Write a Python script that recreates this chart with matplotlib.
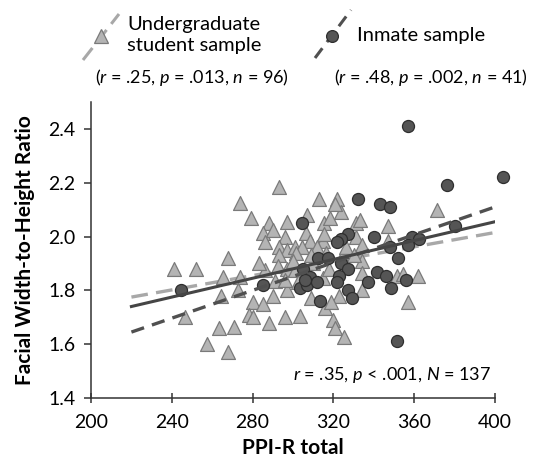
import numpy as np
import matplotlib
matplotlib.use("Agg")
import matplotlib.pyplot as plt
from matplotlib.lines import Line2D

plt.rcParams["font.family"] = ["Lato", "DejaVu Sans"]
plt.rcParams["mathtext.fontset"] = "custom"
plt.rcParams["mathtext.it"] = "Lato:italic"
plt.rcParams["mathtext.rm"] = "Lato"

# ==========================================
# DATA
# ==========================================

undergrad_x = [293, 274, 313, 322, 279, 288, 285, 290, 297, 307,
               315.5, 318.5, 306.6, 286, 296, 308.6, 315, 293, 297, 301,
               304.6, 312, 293, 301.6, 316.5, 324, 331, 333, 347, 371.5,
               331, 334, 347, 325, 334, 286, 292.7, 297, 301, 274,
               291, 297, 290, 280, 285, 278, 280, 288, 296, 303.6,
               309, 316, 320, 321, 302.6, 315, 334, 351.7, 354.7, 362,
               334, 323, 319, 357, 325, 241, 252, 268, 265.5, 264.5,
               273, 246.6, 263.5, 271, 257.5, 268, 321, 315.5, 310, 318,
               300, 326, 283, 309, 330, 296]
undergrad_y = [2.185, 2.125, 2.14, 2.14, 2.07, 2.05, 2.015, 2.025, 2.055, 2.08,
               2.05, 2.07, 2.015, 1.98, 2.0, 1.985, 1.985, 1.96, 1.95, 1.96,
               1.96, 1.96, 1.93, 1.94, 1.94, 2.09, 2.05, 2.06, 2.04, 2.10,
               2.0, 1.97, 1.985, 1.94, 1.91, 1.875, 1.89, 1.88, 1.875, 1.85,
               1.835, 1.80, 1.78, 1.755, 1.75, 1.71, 1.70, 1.68, 1.70, 1.705,
               1.77, 1.735, 1.69, 1.66, 1.83, 1.845, 1.865, 1.855, 1.86, 1.855,
               1.80, 1.78, 1.755, 1.755, 1.625, 1.88, 1.88, 1.92, 1.85, 1.78,
               1.80, 1.70, 1.66, 1.665, 1.60, 1.57, 2.12, 2.01, 1.90, 1.88,
               1.91, 1.96, 1.90, 1.93, 1.93, 1.84]

inmate_x = [244.6, 357, 404, 376, 380, 359, 362.6, 357, 352, 332,
            343, 348, 327, 324, 322, 340, 348, 304.6, 312.5, 317.5,
            285, 305, 308.6, 303.6, 307, 312, 313.5, 324, 327, 323,
            322, 341.6, 345.8, 337, 356, 348.7, 327, 329, 351.7, 306]
inmate_y = [1.80, 2.41, 2.22, 2.19, 2.04, 2.00, 1.99, 1.97, 1.92, 2.14,
            2.12, 2.11, 2.01, 1.99, 1.98, 2.00, 1.96, 2.05, 1.92, 1.92,
            1.82, 1.88, 1.85, 1.81, 1.82, 1.83, 1.76, 1.90, 1.88, 1.855,
            1.83, 1.87, 1.855, 1.83, 1.84, 1.81, 1.80, 1.77, 1.61, 1.84]

# regression line end points
fit_x = [220, 400]
undergrad_fit = [1.775, 2.015]
inmate_fit = [1.645, 2.11]
overall_fit = [1.74, 2.055]

x_ticks = [200, 240, 280, 320, 360, 400]
y_ticks = [1.4, 1.6, 1.8, 2.0, 2.2, 2.4]

TRI_FACE = "#b4b4b4"
TRI_EDGE = "#7a7a7a"
DOT_FACE = "#555555"
DOT_EDGE = "#2e2e2e"

# ==========================================
# FIGURE
# ==========================================

fig = plt.figure(figsize=(5.5, 4.7), dpi=100)
ax = fig.add_axes([0.1655, 0.1532, 0.7345, 0.6298])

ax.plot(fit_x, undergrad_fit, color="#a8a8a8", lw=2.4, dashes=(5, 2.5), zorder=2)
ax.scatter(undergrad_x, undergrad_y, marker="^", s=100, c=TRI_FACE,
           edgecolors=TRI_EDGE, linewidths=0.9, zorder=3, clip_on=False)
ax.scatter(inmate_x, inmate_y, marker="o", s=75, c=DOT_FACE,
           edgecolors=DOT_EDGE, linewidths=0.9, zorder=4, clip_on=False)
ax.plot(fit_x, inmate_fit, color="#505050", lw=2.4, dashes=(4, 2.5), zorder=5)
ax.plot(fit_x, overall_fit, color="#454545", lw=2.2, zorder=5)

ax.set_xlim(200, 400)
ax.set_ylim(1.4, 2.5)
ax.set_xticks(x_ticks)
ax.set_yticks(y_ticks)
ax.set_yticklabels([f"{v:.1f}" for v in y_ticks])
for s in ["top", "right"]:
    ax.spines[s].set_visible(False)
for s in ["left", "bottom"]:
    ax.spines[s].set_color("#333333")
    ax.spines[s].set_linewidth(1.1)
ax.tick_params(axis="x", direction="inout", length=7, width=1.1,
               labelsize=14, pad=8, colors="#333333", labelcolor="black")
ax.tick_params(axis="y", direction="out", length=5, width=1.1,
               labelsize=14, pad=6, colors="#333333", labelcolor="black")

ax.set_xlabel("PPI-R total", fontsize=15, fontweight="bold", labelpad=5)
ax.set_ylabel("Facial Width-to-Height Ratio", fontsize=15,
              fontweight="bold", labelpad=10)

ax.text(398, 1.485, "$r$ = .35, $p$ < .001, $N$ = 137", ha="right",
        va="center", fontsize=13)

# ==========================================
# LEGEND (drawn by hand at the top)
# ==========================================

def px(x, y):
    return x / 550, 1 - y / 470

(a1, b1), (a2, b2) = px(83, 60), px(119, 14)
fig.add_artist(Line2D([a1, a2], [b1, b2], color="#a8a8a8", lw=2.2,
                      dashes=(5, 2.5)))
fig.add_artist(Line2D([px(101, 36)[0]], [px(101, 36)[1]], marker="^",
                      markersize=9.5, markerfacecolor=TRI_FACE,
                      markeredgecolor=TRI_EDGE, markeredgewidth=0.9))

(a1, b1), (a2, b2) = px(315, 58), px(351, 10)
fig.add_artist(Line2D([a1, a2], [b1, b2], color="#505050", lw=2.2,
                      dashes=(4, 2.5)))
fig.add_artist(Line2D([px(332, 36)[0]], [px(332, 36)[1]], marker="o",
                      markersize=8.5, markerfacecolor=DOT_FACE,
                      markeredgecolor=DOT_EDGE, markeredgewidth=0.9))

fig.text(*px(127, 35), "Undergraduate\nstudent sample", ha="left",
         va="center", fontsize=14.5, linespacing=1.25)
fig.text(*px(357, 36), "Inmate sample", ha="left", va="center", fontsize=14.5)
fig.text(*px(192, 77), "($r$ = .25, $p$ = .013, $n$ = 96)", ha="center",
         va="center", fontsize=13)
fig.text(*px(431, 77), "($r$ = .48, $p$ = .002, $n$ = 41)", ha="center",
         va="center", fontsize=13)

fig.savefig("out.png", dpi=100)
